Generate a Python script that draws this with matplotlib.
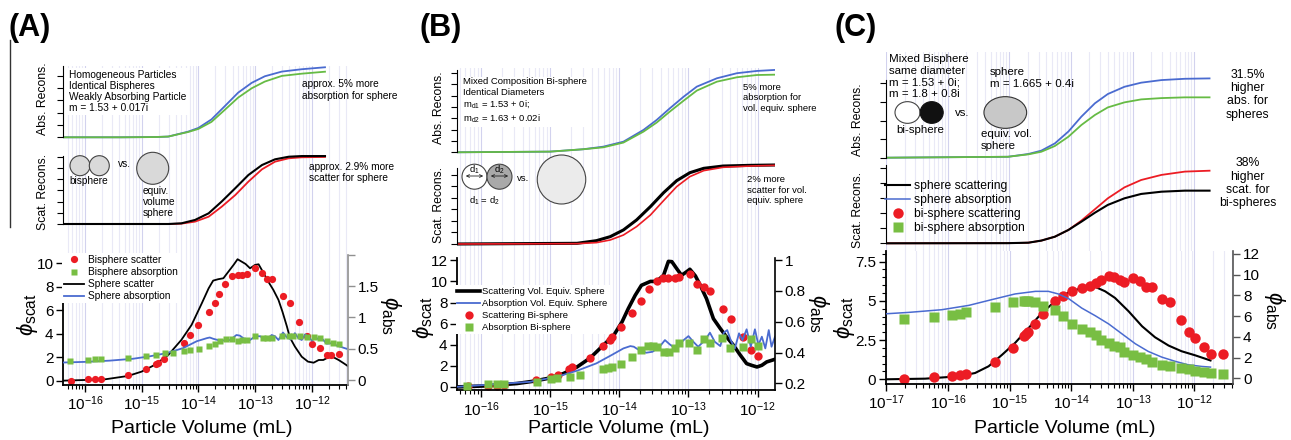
import numpy as np
import matplotlib.pyplot as plt
from matplotlib.ticker import LogLocator, NullFormatter, MultipleLocator
from matplotlib.patches import Ellipse, FancyArrowPatch
from matplotlib.lines import Line2D

plt.rcParams['font.family'] = ['Liberation Sans', 'DejaVu Sans']
plt.rcParams['mathtext.fontset'] = 'custom'
plt.rcParams['mathtext.rm'] = 'Liberation Sans'
plt.rcParams['mathtext.it'] = 'Liberation Sans:italic'
plt.rcParams['mathtext.bf'] = 'Liberation Sans:bold'
plt.rcParams['mathtext.fallback'] = 'stixsans'

W, H = 1291, 440
RED = '#ec1c24'
GREEN = '#78be43'
BLUE = '#4a6bd0'
LGREEN = '#66bb44'
GRID_MIN = '#e9e9f6'
GRID_MAJ = '#d2d2ee'

# ---------------- data (x = log10 particle volume / mL) ----------------
# (A) homogeneous bispheres
a_ticks = [-16, -15, -14, -13, -12]
a_bis_scat_x = [-16.24, -15.94, -15.82, -15.71, -15.24, -14.93, -14.75, -14.71, -14.60, -14.25, -14.15,
                -14.00, -13.82, -13.71, -13.63, -13.53, -13.40, -13.31, -13.24, -13.15, -13.00, -12.88,
                -12.80, -12.70, -12.51, -12.38, -12.23, -12.09, -12.00, -11.86, -11.74, -11.66, -11.53]
a_bis_scat_y = [0.0, 0.11, 0.14, 0.17, 0.48, 0.97, 1.42, 1.53, 1.82, 3.24, 3.89, 4.74, 5.82, 6.65, 7.36,
                8.21, 8.9, 9.0, 9.0, 9.1, 9.6, 9.15, 8.64, 8.64, 7.22, 6.59, 5.03, 3.81, 3.13, 2.76, 2.19,
                2.19, 2.24]
a_bis_abs_x = [-16.26, -15.94, -15.82, -15.72, -15.24, -14.93, -14.74, -14.58, -14.44, -14.25, -14.14,
               -13.99, -13.82, -13.71, -13.62, -13.52, -13.40, -13.31, -13.23, -13.15, -13.00, -12.87,
               -12.80, -12.70, -12.53, -12.40, -12.33, -12.21, -12.09, -11.96, -11.86, -11.74, -11.63, -11.53]
a_bis_abs_y = [0.31, 0.32, 0.33, 0.33, 0.36, 0.38, 0.40, 0.43, 0.44, 0.46, 0.48, 0.50, 0.54, 0.58, 0.62,
               0.65, 0.65, 0.63, 0.64, 0.64, 0.71, 0.67, 0.67, 0.67, 0.70, 0.70, 0.70, 0.71, 0.69, 0.69,
               0.67, 0.63, 0.60, 0.58]
a_sph_scat_x = [-16.38, -15.65, -15.24, -15.00, -14.77, -14.53, -14.30, -14.12, -13.94, -13.82, -13.74,
                -13.65, -13.56, -13.47, -13.38, -13.31, -13.24, -13.17, -13.09, -13.00, -12.94, -12.85,
                -12.77, -12.68, -12.59, -12.52, -12.44, -12.39, -12.30, -12.18, -12.07, -11.97, -11.88,
                -11.80, -11.71, -11.62, -11.53, -11.44, -11.37]
a_sph_scat_y = [0.0, 0.11, 0.40, 0.77, 1.34, 2.19, 3.47, 4.75, 6.59, 7.86, 8.52, 8.64, 8.72, 9.29, 9.86,
                10.34, 10.14, 9.94, 9.57, 9.86, 9.91, 9.15, 8.44, 7.73, 6.88, 5.88, 4.60, 3.69, 2.90, 2.04,
                1.62, 1.53, 1.76, 1.76, 1.99, 1.99, 1.76, 1.48, 1.25]
a_sph_abs_x = [-16.38, -16.00, -15.56, -15.15, -14.85, -14.56, -14.27, -14.03, -13.85, -13.80, -13.74,
               -13.62, -13.44, -13.33, -13.27, -13.18, -13.09, -13.00, -12.91, -12.85, -12.80, -12.71,
               -12.65, -12.59, -12.51, -12.44, -12.37, -12.30, -12.24, -12.18, -12.12, -12.06, -12.00,
               -11.93, -11.87, -11.81, -11.74, -11.65, -11.56, -11.39]
a_sph_abs_y = [0.28, 0.29, 0.31, 0.34, 0.38, 0.43, 0.51, 0.62, 0.67, 0.68, 0.66, 0.63, 0.64, 0.72, 0.71,
               0.65, 0.64, 0.70, 0.70, 0.66, 0.64, 0.72, 0.70, 0.64, 0.76, 0.68, 0.65, 0.75, 0.67, 0.64,
               0.73, 0.69, 0.63, 0.68, 0.64, 0.65, 0.58, 0.59, 0.55, 0.50]
a_rec_x = [-16.40, -15.35, -14.77, -14.53, -14.18, -14.00, -13.77, -13.53, -13.30, -13.06, -12.83, -12.53,
           -12.18, -11.77]
a_rec_abs_sph = [0, 0, 0.02, 0.06, 0.46, 0.76, 1.45, 2.55, 3.62, 4.42, 4.95, 5.33, 5.52, 5.68]
a_rec_abs_bis = [0, 0, 0.02, 0.06, 0.43, 0.68, 1.25, 2.25, 3.22, 3.98, 4.52, 4.98, 5.16, 5.32]
a_rec_sc_x = [-16.40, -14.53, -14.30, -14.06, -13.82, -13.59, -13.35, -13.12, -12.88, -12.65, -12.41,
              -12.18, -11.77]
a_rec_sc_sph = [0, 0.0, 0.06, 0.36, 0.95, 2.0, 3.19, 4.36, 5.25, 5.76, 5.99, 6.05, 6.05]
a_rec_sc_bis = [0, 0.0, 0.03, 0.21, 0.65, 1.54, 2.58, 3.77, 4.87, 5.55, 5.85, 5.94, 5.97]

# (B) mixed composition bisphere
b_ticks = [-16, -15, -14, -13, -12]
b_bis_scat_x = [-16.18, -15.89, -15.77, -15.67, -15.20, -14.98, -14.89, -14.73, -14.68, -14.42, -14.23,
                -14.14, -14.10, -13.98, -13.81, -13.68, -13.57, -13.46, -13.37, -13.29, -13.19, -13.13,
                -12.98, -12.87, -12.77, -12.69, -12.50, -12.38, -12.21, -12.09, -11.99]
b_bis_scat_y = [0.05, 0.1, 0.12, 0.15, 0.69, 0.95, 1.10, 1.74, 1.89, 2.78, 3.85, 4.42, 4.70, 5.71, 7.01,
                8.11, 9.25, 10.04, 10.36, 10.36, 10.36, 10.42, 10.67, 9.73, 9.47, 9.09, 7.36, 6.41, 4.74,
                3.5, 2.9]
b_bis_abs_x = [-16.20, -15.89, -15.77, -15.67, -15.19, -14.98, -14.90, -14.71, -14.57, -14.23, -14.16,
               -14.11, -13.98, -13.81, -13.68, -13.58, -13.51, -13.46, -13.36, -13.28, -13.20, -13.13,
               -12.99, -12.88, -12.78, -12.69, -12.52, -12.40, -12.21, -12.10, -11.99]
b_bis_abs_y = [0.183, 0.194, 0.194, 0.196, 0.211, 0.226, 0.232, 0.243, 0.254, 0.291, 0.302, 0.308, 0.326,
               0.369, 0.416, 0.445, 0.442, 0.438, 0.406, 0.406, 0.427, 0.460, 0.460, 0.416, 0.488, 0.460,
               0.492, 0.427, 0.438, 0.486, 0.442]
b_sph_scat_x = [-16.34, -15.96, -15.48, -15.24, -15.00, -14.81, -14.61, -14.42, -14.23, -14.08, -13.96,
                -13.87, -13.77, -13.68, -13.55, -13.46, -13.36, -13.29, -13.24, -13.17, -13.10, -13.03,
                -12.98, -12.90, -12.83, -12.74, -12.64, -12.54, -12.45, -12.35, -12.25, -12.16, -12.09,
                -12.01, -11.94, -11.87, -11.75]
b_sph_scat_y = [0.0, 0.09, 0.32, 0.54, 0.85, 1.26, 1.89, 2.75, 3.95, 4.89, 6.16, 7.42, 8.68, 9.63, 10.0,
                10.0, 10.58, 11.9, 11.87, 11.21, 10.58, 10.90, 11.15, 10.52, 9.63, 8.37, 6.47, 5.53, 4.74,
                3.95, 3.0, 2.21, 2.05, 1.89, 2.05, 2.37, 2.62]
b_sph_abs_x = [-16.33, -15.29, -14.90, -14.61, -14.33, -14.11, -13.94, -13.84, -13.79, -13.70, -13.61,
               -13.52, -13.41, -13.34, -13.27, -13.19, -13.07, -13.00, -12.93, -12.86, -12.76, -12.69,
               -12.62, -12.54, -12.49, -12.44, -12.39, -12.33, -12.27, -12.22, -12.16, -12.10, -12.04,
               -11.99, -11.94, -11.89, -11.84, -11.80, -11.75]
b_sph_abs_y = [0.178, 0.210, 0.243, 0.282, 0.330, 0.384, 0.427, 0.442, 0.438, 0.412, 0.399, 0.405, 0.442,
               0.481, 0.453, 0.427, 0.481, 0.507, 0.470, 0.438, 0.481, 0.529, 0.470, 0.442, 0.529, 0.546,
               0.481, 0.427, 0.525, 0.481, 0.551, 0.438, 0.551, 0.449, 0.503, 0.427, 0.546, 0.438, 0.503]
b_rec_x = [-16.37, -15.00, -14.52, -14.23, -13.94, -13.65, -13.46, -13.27, -13.07, -12.88, -12.59, -12.30,
           -12.01, -11.75]
b_rec_abs_sph = [0, 0.06, 0.27, 0.50, 0.94, 1.98, 2.86, 3.89, 4.92, 5.81, 6.55, 7.0, 7.2, 7.29]
b_rec_abs_bis = [0, 0.06, 0.27, 0.44, 0.86, 1.83, 2.63, 3.60, 4.57, 5.46, 6.25, 6.64, 6.84, 6.87]
b_rec_sc_x = [-16.37, -14.61, -14.33, -14.13, -13.94, -13.75, -13.55, -13.36, -13.17, -12.98, -12.78,
              -12.50, -12.11, -11.75]
b_rec_sc_sph = [0, 0.06, 0.29, 0.64, 1.22, 2.09, 3.25, 4.46, 5.51, 6.20, 6.58, 6.78, 6.84, 6.87]
b_rec_sc_bis = [0, 0.03, 0.12, 0.35, 0.78, 1.51, 2.52, 3.77, 4.99, 5.86, 6.38, 6.67, 6.78, 6.84]

# (C) strongly absorbing mixed bisphere
c_ticks = [-17, -16, -15, -14, -13, -12]
c_bis_scat_x = [-16.72, -16.23, -15.94, -15.80, -15.71, -15.23, -14.94, -14.77, -14.74, -14.70, -14.59,
                -14.45, -14.26, -14.14, -13.99, -13.83, -13.69, -13.60, -13.51, -13.39, -13.30, -13.21,
                -13.14, -12.99, -12.88, -12.79, -12.69, -12.52, -12.39, -12.22, -12.09, -11.99, -11.85,
                -11.73, -11.53]
c_bis_scat_y = [0.04, 0.13, 0.23, 0.30, 0.36, 1.08, 1.99, 2.74, 2.89, 3.02, 3.53, 4.17, 4.97, 5.33, 5.65,
                5.82, 5.93, 6.14, 6.35, 6.61, 6.50, 6.35, 6.18, 6.46, 6.25, 5.89, 5.89, 5.14, 4.91, 3.81,
                2.99, 2.63, 2.04, 1.62, 1.62]
c_bis_abs_x = c_bis_scat_x[:]
c_bis_abs_y = [5.75, 5.91, 6.07, 6.23, 6.36, 6.88, 7.33, 7.49, 7.49, 7.49, 7.36, 6.94, 6.56, 6.04, 5.24,
               4.79, 4.47, 4.15, 3.73, 3.41, 3.15, 2.99, 2.54, 2.28, 2.05, 1.86, 1.54, 1.31, 1.15, 0.99,
               0.90, 0.74, 0.61, 0.51, 0.45]
c_sph_scat_x = [-17.0, -16.37, -15.83, -15.56, -15.34, -15.12, -14.91, -14.69, -14.48, -14.26, -14.04,
                -13.83, -13.61, -13.45, -13.29, -13.07, -12.85, -12.64, -12.42, -12.21, -11.99, -11.74]
c_sph_scat_y = [0.0, 0.04, 0.19, 0.40, 0.83, 1.57, 2.32, 3.27, 4.22, 4.97, 5.55, 5.82, 5.89, 5.61, 5.19,
                4.34, 3.38, 2.68, 2.15, 1.79, 1.53, 1.2]
c_sph_abs_x = [-17.0, -16.64, -16.10, -15.66, -15.29, -14.91, -14.58, -14.37, -14.21, -14.04, -13.83,
               -13.61, -13.39, -13.18, -12.96, -12.75, -12.53, -12.31, -12.10, -11.88, -11.74]
c_sph_abs_y = [6.23, 6.36, 6.62, 7.04, 7.59, 8.14, 8.39, 8.39, 8.14, 7.68, 6.78, 6.04, 5.24, 4.31, 3.34,
               2.60, 2.05, 1.64, 1.31, 1.15, 1.09]
c_rec_x = [-17.0, -15.02, -14.69, -14.48, -14.26, -14.04, -13.83, -13.61, -13.40, -13.13, -12.86, -12.53,
           -12.15, -11.75]
c_rec_abs_sph = [0, 0.05, 0.20, 0.38, 0.77, 1.41, 2.21, 2.93, 3.43, 3.82, 4.04, 4.18, 4.25, 4.27]
c_rec_abs_bis = [0, 0.05, 0.18, 0.32, 0.63, 1.13, 1.76, 2.30, 2.71, 2.98, 3.14, 3.21, 3.25, 3.25]
c_rec_sc_sph = [0, 0.01, 0.04, 0.18, 0.44, 0.89, 1.44, 2.04, 2.56, 3.00, 3.29, 3.44, 3.51, 3.51]
c_rec_sc_bis = [0, 0.01, 0.04, 0.18, 0.44, 0.89, 1.51, 2.27, 3.00, 3.73, 4.22, 4.56, 4.78, 4.84]

# ---------------- figure ----------------
fig = plt.figure(figsize=(W / 100, H / 100), dpi=100)


def box(x0, x1, y0, y1):
    # axes from pixel edges (y measured from the top)
    return fig.add_axes([x0 / W, 1 - y1 / H, (x1 - x0) / W, (y1 - y0) / H])


def txt(x, y, s, **kw):
    fig.text(x / W, 1 - y / H, s, **kw)


def ell(x, y, w, h, fc, ec='#444444'):
    fig.add_artist(Ellipse((x / 100, (H - y) / 100), w / 100, h / 100, transform=fig.dpi_scale_trans,
                           fc=fc, ec=ec, lw=0.8, zorder=2))


def v(xs):
    return 10 ** np.array(xs, dtype=float)


def log_x(ax, lo, hi, ticks):
    ax.set_xscale('log')
    ax.set_xlim(10 ** lo, 10 ** hi)
    ax.set_xticks(v(ticks))
    ax.xaxis.set_minor_locator(LogLocator(base=10, subs=np.arange(2, 10), numticks=30))
    ax.xaxis.set_minor_formatter(NullFormatter())
    ax.grid(axis='x', which='major', color=GRID_MAJ, lw=0.8)
    ax.grid(axis='x', which='minor', color=GRID_MIN, lw=0.8)
    ax.set_axisbelow(True)


def recon(x0, x1, y0, y1, lo, hi, ticks, ylo, yhi, top, nt):
    ax = box(x0, x1, y0, y1)
    log_x(ax, lo, hi, ticks)
    ax.set_ylim(ylo, yhi)
    for s in ('top', 'right', 'bottom'):
        ax.spines[s].set_visible(False)
    ax.spines['left'].set_bounds(0, top)
    ax.spines['left'].set_linewidth(0.8)
    ax.set_yticks(range(nt + 1))
    ax.tick_params(axis='y', direction='out', length=4, width=0.8, labelleft=False)
    ax.tick_params(axis='x', which='both', bottom=False, labelbottom=False)
    return ax


def lower(x0, x1, y0, y1, lo, hi, ticks, yl, yr, rcol):
    ax = box(x0, x1, y0, y1)
    log_x(ax, lo, hi, ticks)
    ax.set_ylim(*yl)
    ax.spines['top'].set_visible(False)
    ax.spines['right'].set_visible(False)
    for s in ('left', 'bottom'):
        ax.spines[s].set_linewidth(1.3)
    ax.tick_params(axis='both', which='major', direction='out', length=5, width=1, labelsize=11, pad=2)
    ax.tick_params(axis='x', which='minor', direction='out', length=3, width=0.8)
    ax2 = ax.twinx()
    ax2.set_ylim(*yr)
    for s in ('top', 'left', 'bottom'):
        ax2.spines[s].set_visible(False)
    ax2.spines['right'].set_color(rcol)
    ax2.spines['right'].set_linewidth(1.2)
    ax2.tick_params(axis='y', direction='out', length=5, width=1, color=rcol, labelsize=11, pad=2)
    return ax, ax2


leg_kw = dict(loc='upper left', bbox_transform=fig.transFigure, borderaxespad=0, fancybox=False,
              edgecolor='none', facecolor='white', framealpha=1)

# ---------- panel A ----------
ra = recon(63.3, 347.7, 66, 147, -16.38, -11.37, a_ticks, (137.3 - 147) / 12.33, (137.3 - 66) / 12.33, 5.75, 5)
ra.plot(v(a_rec_x), a_rec_abs_sph, color=BLUE, lw=1.3)
ra.plot(v(a_rec_x), a_rec_abs_bis, color=LGREEN, lw=1.3)
rs = recon(63.3, 347.7, 147, 255, -16.38, -11.37, a_ticks, (224 - 255) / 11.23, (224 - 147) / 11.23, 6.05, 6)
rs.plot(v(a_rec_sc_x), a_rec_sc_bis, color=RED, lw=1.3)
rs.plot(v(a_rec_sc_x), a_rec_sc_sph, color='black', lw=1.5)

ax, ax2 = lower(63.3, 347.7, 255, 385, -16.38, -11.37, a_ticks, (-0.37, 10.7), (-0.08, 2.0), '#909090')
ax.set_yticks([0, 2, 4, 6, 8, 10])
ax2.set_yticks([0, 0.5, 1, 1.5, 2])
ax2.set_yticklabels(['0', '0.5', '1', '1.5', ''])
l1, = ax.plot(v(a_sph_scat_x), a_sph_scat_y, color='black', lw=1.3, label='Sphere scatter')
p1, = ax.plot(v(a_bis_scat_x), a_bis_scat_y, 'o', color=RED, ms=5.2, mec='none', label='Bisphere scatter')
l2, = ax2.plot(v(a_sph_abs_x), a_sph_abs_y, color=BLUE, lw=1.3, label='Sphere absorption')
p2, = ax2.plot(v(a_bis_abs_x), a_bis_abs_y, 's', color=GREEN, ms=5, mec='none', label='Bisphere absorption')
ax2.legend(handles=[p1, p2, l1, l2], bbox_to_anchor=(61.5 / W, 1 - 253 / H), fontsize=7.3, handlelength=2.0,
           handletextpad=0.45, labelspacing=0.2, borderpad=0.2, **leg_kw)

txt(30, 28, '(A)', fontsize=22, fontweight='bold', ha='center', va='center')
fig.add_artist(Line2D([10 / W, 10 / W], [1 - 40 / H, 1 - 227 / H], color='#333333', lw=1.0))
txt(43, 98.5, 'Abs. Recons.', rotation=90, fontsize=8.8, ha='center', va='center')
txt(43, 191.5, 'Scat. Recons.', rotation=90, fontsize=8.8, ha='center', va='center')
txt(69, 91.5, 'Homogeneous Particles\nIdentical Bispheres\nWeakly Absorbing Particle\nm = 1.53 + 0.017i',
    fontsize=7.3, ha='left', va='center', linespacing=1.15, bbox=dict(fc='white', ec='none', pad=1.5))
txt(302, 90, 'approx. 5% more\nabsorption for sphere', fontsize=7.3, ha='left', va='center')
txt(309, 172.5, 'approx. 2.9% more\nscatter for sphere', fontsize=7.3, ha='left', va='center')
ell(80, 165.7, 20, 20, '#d9d9d9')
ell(99.3, 165.7, 20, 20, '#d9d9d9')
txt(89, 181, 'bisphere', fontsize=7.3, ha='center', va='center')
txt(124, 164, 'vs.', fontsize=7.3, ha='center', va='center')
ell(152.7, 168.3, 32, 32, '#d9d9d9')
txt(143, 202.3, 'equiv.\nvolume\nsphere', fontsize=7.3, ha='left', va='center', linespacing=1.15)
txt(27, 315, r'$\phi_{\rm scat}$', rotation=90, fontsize=16, ha='center', va='center')
txt(390, 315, r'$\phi_{\rm abs}$', rotation=270, fontsize=16, ha='center', va='center')
txt(201.7, 428, 'Particle Volume (mL)', fontsize=14, ha='center', va='center')

# ---------- panel B ----------
ra = recon(457.3, 775, 68, 160, -16.34, -11.75, b_ticks, (152.3 - 160) / 11.3, (152.3 - 68) / 11.3, 7.3, 7)
ra.plot(v(b_rec_x), b_rec_abs_sph, color=BLUE, lw=1.3)
ra.plot(v(b_rec_x), b_rec_abs_bis, color=LGREEN, lw=1.3)
rs = recon(457.3, 775, 160, 258.3, -16.34, -11.75, b_ticks, (244 - 258.3) / 11.5, (244 - 160) / 11.5, 6.6, 6)
rs.plot(v(b_rec_sc_x), b_rec_sc_sph, color='black', lw=2.2)
rs.plot(v(b_rec_sc_x), b_rec_sc_bis, color=RED, lw=1.2)

ax, ax2 = lower(457.3, 775, 258.3, 390.3, -16.34, -11.75, b_ticks, (-0.32, 12.19), (0.155, 1.012), 'black')
ax.set_yticks([0, 2, 4, 6, 8, 10, 12])
ax2.set_yticks([0.2, 0.4, 0.6, 0.8, 1.0])
ax2.set_yticklabels(['0.2', '0.4', '0.6', '0.8', '1'])
l1, = ax.plot(v(b_sph_scat_x), b_sph_scat_y, color='black', lw=2.6, label='Scattering Vol. Equiv. Sphere')
p1, = ax.plot(v(b_bis_scat_x), b_bis_scat_y, 'o', color=RED, ms=6, mec='none', label='Scattering Bi-sphere')
l2, = ax2.plot(v(b_sph_abs_x), b_sph_abs_y, color=BLUE, lw=1.3, label='Absorption Vol. Equiv. Sphere')
p2, = ax2.plot(v(b_bis_abs_x), b_bis_abs_y, 's', color=GREEN, ms=5.5, mec='none', label='Absorption Bi-sphere')
ax2.legend(handles=[l1, l2, p1, p2], bbox_to_anchor=(455.5 / W, 1 - 285 / H), fontsize=6.8, handlelength=2.4,
           handletextpad=0.25, labelspacing=0.32, borderpad=0.2, **leg_kw)

txt(441, 28, '(B)', fontsize=22, fontweight='bold', ha='center', va='center')
txt(439, 108, 'Abs. Recons.', rotation=90, fontsize=8.8, ha='center', va='center')
txt(439, 205, 'Scat. Recons.', rotation=90, fontsize=8.8, ha='center', va='center')
txt(462.7, 101, 'Mixed Composition Bi-sphere\nIdentical Diameters\n'
    r'm$_{\rm d1}$ = 1.53 + 0i;' '\n' r'm$_{\rm d2}$ = 1.63 + 0.02i',
    fontsize=6.8, ha='left', va='center', linespacing=1.2, bbox=dict(fc='white', ec='none', pad=1.5))
txt(743, 98, '5% more\nabsorption for\nvol. equiv. sphere', fontsize=6.8, ha='left', va='center',
    linespacing=1.2)
txt(747, 190, '2% more\nscatter for vol.\nequiv. sphere', fontsize=6.8, ha='left', va='center',
    linespacing=1.2)
ell(474.5, 176.7, 25, 25, 'white')
ell(499.5, 176.7, 25, 25, '#a9a9a9')
for xa, xb in ((463, 486), (488, 511)):
    fig.add_artist(FancyArrowPatch((xa / 100, (H - 176) / 100), (xb / 100, (H - 176) / 100),
                                   transform=fig.dpi_scale_trans, arrowstyle='<->', mutation_scale=5,
                                   lw=0.6, color='#222222', zorder=3))
txt(474, 170, r'd$_{\rm 1}$', fontsize=6.8, ha='center', va='center')
txt(499, 170, r'd$_{\rm 2}$', fontsize=6.8, ha='center', va='center')
txt(484.3, 201, r'd$_{\rm 1}$ = d$_{\rm 2}$', fontsize=6.8, ha='center', va='center')
txt(523.3, 178.3, 'vs.', fontsize=6.8, ha='center', va='center')
ell(561.5, 179.5, 48.5, 49, '#ebebeb')
txt(424, 318, r'$\phi_{\rm scat}$', rotation=90, fontsize=16, ha='center', va='center')
txt(818, 313, r'$\phi_{\rm abs}$', rotation=270, fontsize=16, ha='center', va='center')
txt(618.3, 428, 'Particle Volume (mL)', fontsize=14, ha='center', va='center')

# ---------- panel C ----------
ra = recon(886, 1212, 52, 162, -17.0, -11.71, c_ticks, (157.7 - 162) / 18.57, (157.7 - 52) / 18.57, 4.2, 4)
ra.plot(v(c_rec_x), c_rec_abs_sph, color=BLUE, lw=1.3)
ra.plot(v(c_rec_x), c_rec_abs_bis, color=LGREEN, lw=1.3)
rs = recon(886, 1212, 162, 251.3, -17.0, -11.71, c_ticks, (243.3 - 251.3) / 15, (243.3 - 162) / 15, 5.2, 5)
rs.plot(v(c_rec_x), c_rec_sc_bis, color=RED, lw=1.3)
rs.plot(v(c_rec_x), c_rec_sc_sph, color='black', lw=1.5)

ax, ax2 = lower(886, 1233.3, 251.3, 384, -17.005, -11.37, c_ticks, (-0.30, 8.16), (-0.54, 12.25), '#555555')
ax.set_yticks([0, 2.5, 5, 7.5])
ax.set_yticklabels(['0', '2.5', '5', '7.5'])
ax.yaxis.set_minor_locator(MultipleLocator(0.5))
ax.tick_params(axis='y', which='minor', direction='out', length=3, width=0.8)
ax2.set_yticks([0, 2, 4, 6, 8, 10, 12])
l1, = ax.plot(v(c_sph_scat_x), c_sph_scat_y, color='black', lw=1.5, label='sphere scattering')
p1, = ax.plot(v(c_bis_scat_x), c_bis_scat_y, 'o', color=RED, ms=7.5, mec='none', label='bi-sphere scattering')
l2, = ax2.plot(v(c_sph_abs_x), c_sph_abs_y, color=BLUE, lw=1.1, label='sphere absorption')
p2, = ax2.plot(v(c_bis_abs_x), c_bis_abs_y, 's', color=GREEN, ms=6.5, mec='none', label='bi-sphere absorption')
rs.legend(handles=[l1, l2, p1, p2], bbox_to_anchor=(885 / W, 1 - 180 / H), loc='upper left',
          bbox_transform=fig.transFigure, borderaxespad=0, borderpad=0, frameon=False, fontsize=8.7,
          handlelength=2.07, handletextpad=0.36, labelspacing=0.16)

txt(855.5, 28, '(C)', fontsize=22, fontweight='bold', ha='center', va='center')
txt(858, 120, 'Abs. Recons.', rotation=90, fontsize=8.8, ha='center', va='center')
txt(858, 210, 'Scat. Recons.', rotation=90, fontsize=8.8, ha='center', va='center')
txt(889.3, 76.7, 'Mixed Bisphere\nsame diameter\nm = 1.53 + 0i;\nm = 1.8 + 0.8i', fontsize=8.25,
    ha='left', va='center', linespacing=1.2)
txt(990, 78, 'sphere\nm = 1.665 + 0.4i', fontsize=8.25, ha='left', va='center', linespacing=1.2)
ell(907.5, 112.5, 25, 21.7, 'white')
ell(931.7, 112.5, 23, 21.7, '#111111', ec='#111111')
txt(962.3, 112.7, 'vs.', fontsize=8.25, ha='center', va='center')
txt(920, 130, 'bi-sphere', fontsize=8.25, ha='center', va='center')
ell(1005.3, 112.5, 42.7, 31.7, '#c8c8c8', ec='#333333')
txt(980.7, 140, 'equiv. vol.\nsphere', fontsize=8.25, ha='left', va='center', linespacing=1.2)
txt(1247.7, 94.7, '31.5%\nhigher\nabs. for\nspheres', fontsize=8.8, ha='center', va='center',
    linespacing=1.15)
txt(1247.7, 183.3, '38%\nhigher\nscat. for\nbi-spheres', fontsize=8.8, ha='center', va='center',
    linespacing=1.15)
txt(845, 318, r'$\phi_{\rm scat}$', rotation=90, fontsize=16, ha='center', va='center')
txt(1274, 310, r'$\phi_{\rm abs}$', rotation=270, fontsize=16, ha='center', va='center')
txt(1065, 428, 'Particle Volume (mL)', fontsize=14, ha='center', va='center')

fig.savefig('out.png', dpi=100)
